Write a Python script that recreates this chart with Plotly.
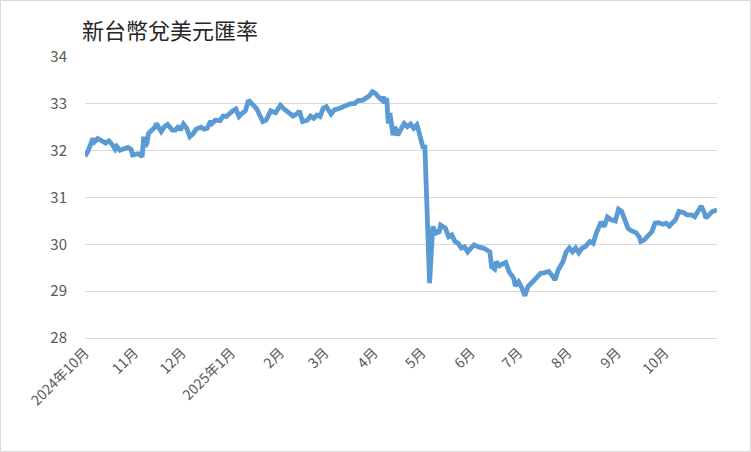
import plotly.graph_objects as go

title_text = "新台幣兌美元匯率"

dates = [
    "2024-10-01","2024-10-03","2024-10-06","2024-10-07","2024-10-09","2024-10-12","2024-10-14","2024-10-16",
    "2024-10-18","2024-10-20","2024-10-21","2024-10-23","2024-10-25","2024-10-28","2024-10-30","2024-10-31",
    "2024-11-03","2024-11-04","2024-11-06","2024-11-07","2024-11-08","2024-11-09","2024-11-10","2024-11-12",
    "2024-11-14","2024-11-15","2024-11-17","2024-11-18","2024-11-20","2024-11-22","2024-11-25","2024-11-27",
    "2024-11-29","2024-11-30","2024-12-02","2024-12-04","2024-12-06","2024-12-08","2024-12-10","2024-12-13",
    "2024-12-15","2024-12-17","2024-12-19","2024-12-20","2024-12-22","2024-12-25","2024-12-26","2024-12-27",
    "2024-12-29","2024-12-31","2025-01-02","2025-01-04","2025-01-06","2025-01-08","2025-01-10","2025-01-12",
    "2025-01-14","2025-01-17","2025-01-19","2025-01-21","2025-01-23","2025-01-25","2025-01-26","2025-01-29",
    "2025-02-01","2025-02-03","2025-02-06","2025-02-09","2025-02-12","2025-02-13","2025-02-15","2025-02-18",
    "2025-02-20","2025-02-22","2025-02-24","2025-02-26","2025-02-28","2025-03-02","2025-03-05","2025-03-07",
    "2025-03-10","2025-03-14","2025-03-17","2025-03-20","2025-03-22","2025-03-25","2025-03-27","2025-03-29",
    "2025-03-31","2025-04-02","2025-04-04","2025-04-06","2025-04-07","2025-04-08","2025-04-09","2025-04-10",
    "2025-04-11","2025-04-13","2025-04-14","2025-04-16","2025-04-17","2025-04-20","2025-04-22","2025-04-24",
    "2025-04-26","2025-04-28","2025-04-29","2025-05-01","2025-05-02","2025-05-03","2025-05-06","2025-05-08",
    "2025-05-10","2025-05-12","2025-05-13","2025-05-16","2025-05-17","2025-05-18","2025-05-20","2025-05-22",
    "2025-05-24","2025-05-26","2025-05-28","2025-05-30","2025-06-01","2025-06-03","2025-06-06","2025-06-09",
    "2025-06-11","2025-06-13","2025-06-14","2025-06-16","2025-06-17","2025-06-19","2025-06-21","2025-06-23",
    "2025-06-25","2025-06-28","2025-06-29","2025-07-01","2025-07-03","2025-07-05","2025-07-07","2025-07-10",
    "2025-07-12","2025-07-15","2025-07-17","2025-07-20","2025-07-22","2025-07-24","2025-07-26","2025-07-29",
    "2025-07-31","2025-08-02","2025-08-04","2025-08-06","2025-08-08","2025-08-10","2025-08-12","2025-08-15",
    "2025-08-17","2025-08-19","2025-08-22","2025-08-24","2025-08-26","2025-08-28","2025-08-31","2025-09-02",
    "2025-09-04","2025-09-06","2025-09-08","2025-09-10","2025-09-13","2025-09-15","2025-09-16","2025-09-18",
    "2025-09-21","2025-09-23","2025-09-25","2025-09-27","2025-09-30","2025-10-02","2025-10-04","2025-10-06",
    "2025-10-08","2025-10-10","2025-10-13","2025-10-15","2025-10-18","2025-10-20","2025-10-22","2025-10-24",
    "2025-10-26","2025-10-27","2025-10-29","2025-10-31","2025-11-03",
]

rates = [
    31.88,32.00,32.26,32.19,32.26,32.19,32.16,32.21,
    32.14,32.03,32.09,32.01,32.04,32.07,32.03,31.91,
    31.93,31.93,31.87,32.30,32.09,32.16,32.37,32.44,
    32.50,32.58,32.48,32.41,32.51,32.56,32.44,32.44,
    32.53,32.44,32.57,32.48,32.30,32.36,32.46,32.50,
    32.46,32.48,32.63,32.58,32.65,32.64,32.69,32.74,
    32.73,32.80,32.85,32.89,32.73,32.80,32.85,33.08,
    33.00,32.90,32.76,32.62,32.65,32.76,32.85,32.81,
    32.97,32.90,32.83,32.74,32.80,32.85,32.62,32.65,
    32.74,32.69,32.76,32.73,32.90,32.94,32.78,32.87,
    32.90,32.95,33.00,33.01,33.07,33.08,33.12,33.17,
    33.26,33.22,33.14,33.08,33.15,33.01,33.12,32.58,
    32.80,32.33,32.51,32.33,32.40,32.58,32.51,32.57,
    32.48,32.55,32.44,32.23,32.05,32.12,29.17,30.38,
    30.24,30.27,30.41,30.34,30.20,30.16,30.20,30.06,
    30.02,29.92,29.95,29.84,29.92,29.99,29.94,29.92,
    29.88,29.84,29.52,29.47,29.63,29.54,29.58,29.61,
    29.42,29.27,29.11,29.20,29.08,28.90,29.10,29.20,
    29.27,29.38,29.39,29.42,29.34,29.24,29.45,29.63,
    29.84,29.92,29.84,29.92,29.82,29.92,29.95,30.06,
    30.02,30.24,30.48,30.38,30.58,30.53,30.50,30.75,
    30.70,30.48,30.34,30.29,30.25,30.16,30.06,30.09,
    30.20,30.27,30.45,30.46,30.43,30.45,30.39,30.48,
    30.53,30.70,30.68,30.63,30.63,30.59,30.73,30.82,
    30.68,30.56,30.63,30.70,30.73,
]

tick_dates = ["2024-10-01","2024-11-01","2024-12-01","2025-01-01","2025-02-01","2025-03-01",
              "2025-04-01","2025-05-01","2025-06-01","2025-07-01","2025-08-01","2025-09-01","2025-10-01"]
tick_labels = ["2024年10月","11月","12月","2025年1月","2月","3月",
               "4月","5月","6月","7月","8月","9月","10月"]

y_ticks = [28, 29, 30, 31, 32, 33, 34]

W, H = 751, 452
L, R, T, B = 85, 34, 57, 114
pw, ph = W - L - R, H - T - B

fig = go.Figure()
fig.add_trace(go.Scatter(
    x=dates, y=rates, mode="lines",
    line=dict(color="#5B9BD5", width=4.8),
    hoverinfo="x+y", showlegend=False,
))

font_family = "Noto Sans CJK TC, Noto Sans, sans-serif"

fig.update_layout(
    width=W, height=H,
    margin=dict(l=L, r=R, t=T, b=B),
    paper_bgcolor="white", plot_bgcolor="white",
    font=dict(family=font_family, color="#595959", size=14),
    title=dict(text=title_text, x=82 / W, xanchor="left", y=1 - 31 / H, yanchor="middle",
               font=dict(size=22, color="#262626", family=font_family)),
    xaxis=dict(
        type="date",
        range=[dates[0], dates[-1]],
        tickvals=tick_dates, ticktext=tick_labels,
        tickangle=-45, showgrid=False, zeroline=False,
        showline=True, linecolor="#D9D9D9", linewidth=1, ticks="",
        tickfont=dict(size=14, color="#595959"),
    ),
    yaxis=dict(
        range=[28, 34], tickvals=y_ticks,
        showgrid=True, gridcolor="#D9D9D9", gridwidth=1,
        zeroline=False, showline=False, ticks="",
        ticklabelstandoff=17,
        tickfont=dict(size=15, color="#595959"),
    ),
    shapes=[dict(
        type="rect", xref="paper", yref="paper",
        x0=-L / pw + 0.5 / pw, x1=1 + R / pw - 0.5 / pw,
        y0=-B / ph + 0.5 / ph, y1=1 + T / ph - 0.5 / ph,
        line=dict(color="#D9D9D9", width=1), layer="below",
    )],
)

fig.write_html(
    "out.html",
    config={"displayModeBar": False},
    post_script="document.body.style.margin='0';document.body.style.overflow='hidden';",
)
